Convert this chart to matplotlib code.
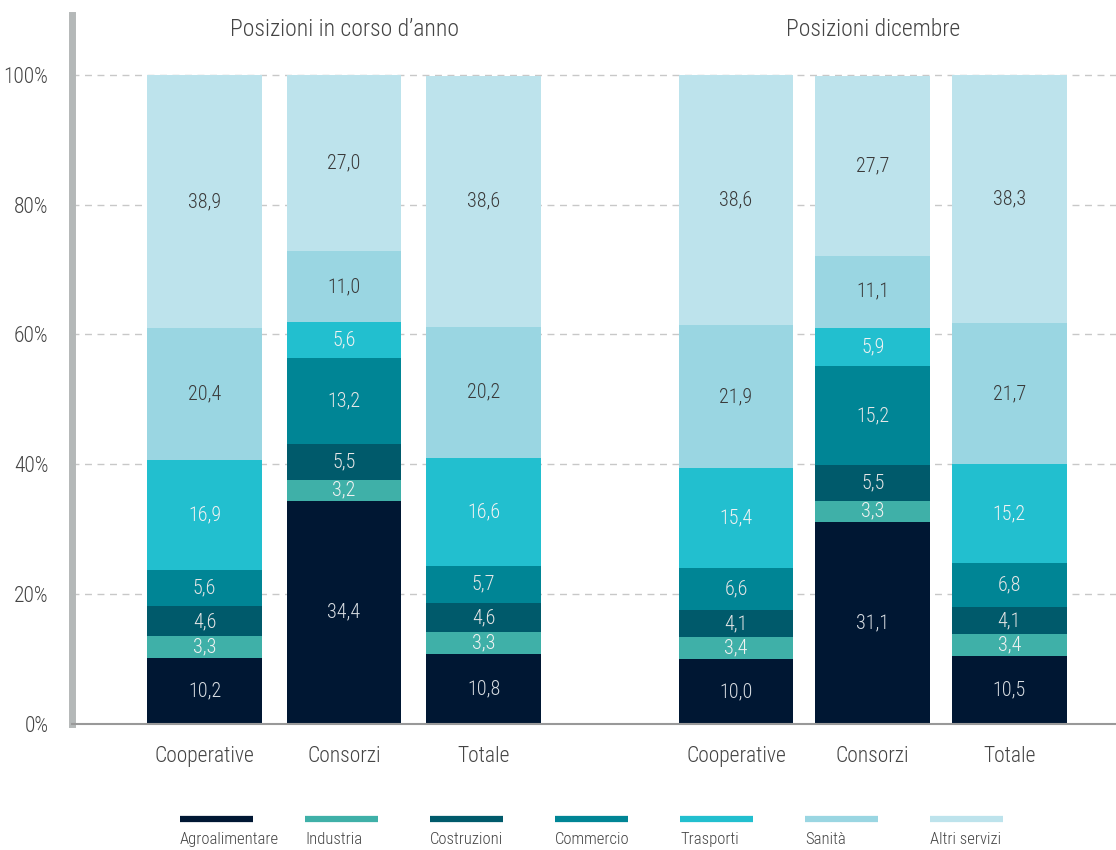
import matplotlib
matplotlib.use("Agg")
import matplotlib.pyplot as plt
from matplotlib import font_manager as fm
import numpy as np

# ---------------- data ----------------
sectors = ["Agroalimentare", "Industria", "Costruzioni", "Commercio",
           "Trasporti", "Sanità", "Altri servizi"]
categories = ["Cooperative", "Consorzi", "Totale",
              "Cooperative", "Consorzi", "Totale"]
group_titles = ["Posizioni in corso d’anno", "Posizioni dicembre"]

agroalimentare = [10.2, 34.4, 10.8, 10.0, 31.1, 10.5]
industria      = [3.3, 3.2, 3.3, 3.4, 3.3, 3.4]
costruzioni    = [4.6, 5.5, 4.6, 4.1, 5.5, 4.1]
commercio      = [5.6, 13.2, 5.7, 6.6, 15.2, 6.8]
trasporti      = [16.9, 5.6, 16.6, 15.4, 5.9, 15.2]
sanita         = [20.4, 11.0, 20.2, 21.9, 11.1, 21.7]
altri_servizi  = [38.9, 27.0, 38.6, 38.6, 27.7, 38.3]

series = [agroalimentare, industria, costruzioni, commercio,
          trasporti, sanita, altri_servizi]
colors = ["#001733", "#3fb0a8", "#005a6b", "#008595",
          "#22bfcf", "#9ad6e2", "#bde3ec"]
label_colors = ["#d8dde2", "#f2f2f2", "#e6e6e6", "#e6e6e6",
                "#f2f2f2", "#3a3a3a", "#3a3a3a"]
yticks = [0, 20, 40, 60, 80, 100]

# ---------------- font ----------------
def pick_font(cands):
    for c in cands:
        try:
            fm.findfont(fm.FontProperties(family=c), fallback_to_default=False)
            return c
        except Exception:
            pass
    return "DejaVu Sans"

font = pick_font(["Roboto Condensed", "Open Sans Condensed", "Liberation Sans Narrow",
                  "DejaVu Sans Condensed", "Roboto"])
plt.rcParams["font.family"] = [font, "DejaVu Sans"]
plt.rcParams["font.weight"] = "light"

W, H = 1116, 850
fig = plt.figure(figsize=(W / 100, H / 100), dpi=100)

ax_left, ax_right = 72, 1116
ax_bottom, ax_top = 724, 15
ax = fig.add_axes([ax_left / W, (H - ax_bottom) / H,
                   (ax_right - ax_left) / W, (ax_bottom - ax_top) / H])

x = np.array([0, 1, 2, 3.81, 4.79, 5.77])
width = 0.824

bottom = np.zeros(len(x))
for vals, col, lc in zip(series, colors, label_colors):
    vals = np.array(vals)
    ax.bar(x, vals, width=width, bottom=bottom, color=col, zorder=2)
    for xi, b, v in zip(x, bottom, vals):
        ax.text(xi, b + v / 2, f"{v:.1f}".replace(".", ","), ha="center",
                va="center", color=lc, fontsize=14.5, zorder=3)
    bottom += vals

ax.set_xlim(-0.950, 6.534)
ax.set_ylim(0, 109.2)
ax.set_yticks(yticks)
ax.set_yticklabels([f"{t}%" for t in yticks])
ax.set_xticks(x)
ax.set_xticklabels(categories)
ax.tick_params(axis="both", length=0, labelsize=15.5, colors="#444444")
ax.tick_params(axis="x", pad=16)
ax.tick_params(axis="y", pad=17)

for t in yticks[1:]:
    ax.axhline(t, color="#c8c8c8", lw=1, ls=(0, (5, 4)), zorder=1)

for s in ["top", "right"]:
    ax.spines[s].set_visible(False)
ax.spines["left"].set_color("#b4b8b8")
ax.spines["left"].set_linewidth(5)
ax.spines["bottom"].set_color("#999999")
ax.spines["bottom"].set_linewidth(1.5)

ax.text(np.mean(x[:3]), 107.0, group_titles[0], ha="center", va="center",
        fontsize=17, color="#444444")
ax.text(np.mean(x[3:]), 107.0, group_titles[1], ha="center", va="center",
        fontsize=17, color="#444444")

# legend
lax = fig.add_axes([0, 0, 1, 60 / H])
lax.set_xlim(0, W)
lax.set_ylim(0, 60)
lax.axis("off")
for i, (name, col) in enumerate(zip(sectors, colors)):
    x0 = 180 + i * 125
    lax.plot([x0, x0 + 73], [31, 31], color=col, lw=4.5, solid_capstyle="butt")
    lax.text(x0, 18, name, ha="left", va="top", fontsize=12, color="#444444")

fig.savefig("out.png", dpi=100)
